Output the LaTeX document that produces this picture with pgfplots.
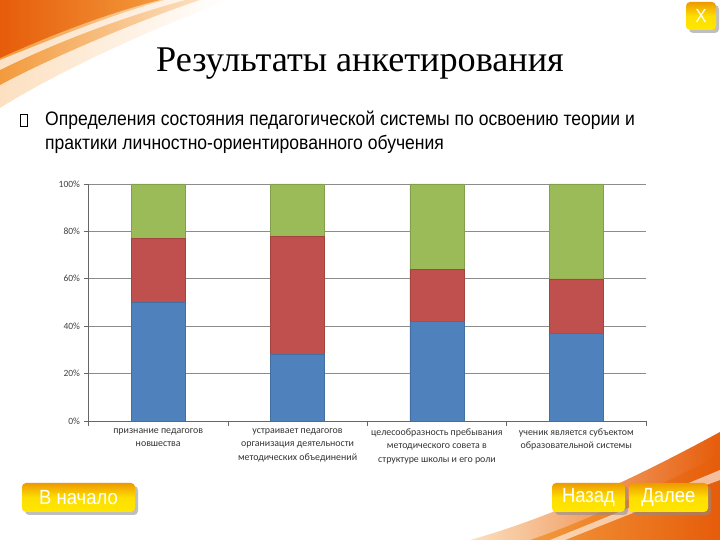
\documentclass[border=0pt]{standalone}
\usepackage{fontspec}
\setmainfont{Liberation Serif}
\newfontfamily\arialf{Liberation Sans}
\newfontfamily\narrowf[FakeStretch=0.9]{Liberation Sans}
\newfontfamily\calib{Carlito}
\usepackage{pgfplots}
\pgfplotsset{compat=1.18}
\definecolor{sblue}{HTML}{4F81BD}
\definecolor{sred}{HTML}{C0504D}
\definecolor{sgreen}{HTML}{9BBB59}
\definecolor{odark}{HTML}{E65C0A}
\definecolor{omid}{HTML}{F39A3C}
\definecolor{olight}{HTML}{FCE0C0}
\definecolor{btop}{HTML}{EE9A00}
\definecolor{bbot}{HTML}{FFE600}
\newcommand{\btn}[6]{%
  \fill[black!45,opacity=0.55,rounded corners=4pt] (#1+3,540-#4-3) rectangle (#3+3,540-#2-3);
  \shade[top color=btop,bottom color=bbot,middle color=bbot!90!btop,rounded corners=4pt] (#1,540-#4) rectangle (#3,540-#2);
  \node[text=white,font=\narrowf\fontsize{#6}{20}\selectfont] at ({(#1+#3)/2},{540-(#2+#4)/2}) {#5};}
\begin{document}
\begin{tikzpicture}[x=1pt,y=1pt]
\path[fill=white] (0,0) rectangle (720,540);
% top-left swoosh
\shade[left color=olight,right color=white] (0,540) -- (230,540) .. controls (160,515) and (60,470) .. (0,432) -- cycle;
\shade[left color=omid,right color=olight] (0,540) -- (200,540) .. controls (140,520) and (50,482) .. (0,455) -- cycle;
\fill[white,opacity=0.7] (0,470) .. controls (60,500) and (130,525) .. (185,540) -- (165,540) .. controls (110,525) and (50,500) .. (0,480) -- cycle;
\shade[left color=odark,right color=omid] (0,540) -- (160,540) .. controls (100,525) and (40,500) .. (0,482) -- cycle;
% bottom-right swoosh
\shade[right color=odark,left color=olight] (720,108) .. controls (650,70) and (560,25) .. (470,0) -- (720,0) -- cycle;
\shade[right color=odark,left color=omid] (720,85) .. controls (660,55) and (590,20) .. (530,0) -- (720,0) -- cycle;
\fill[white,opacity=0.6] (720,70) .. controls (660,45) and (600,20) .. (550,0) -- (565,0) .. controls (610,18) and (665,40) .. (720,60) -- cycle;
% title
\node[font=\fontsize{36.2}{42}\selectfont] at (360,476) {Результаты анкетирования};
% bullet
\draw[line width=0.5pt] (20.5,414) rectangle (27,426);
\node[anchor=base west,align=left,font=\narrowf\fontsize{19.5}{24}\selectfont,inner sep=0pt] at (45,390) {Определения состояния педагогической системы по освоению теории и\\практики личностно-ориентированного обучения};
% buttons
\btn{22}{483}{135}{512}{В начало}{20.5}
\btn{552}{483}{625}{512}{Назад}{20.5}
\btn{629}{483}{708}{512}{Далее}{20.5}
\btn{686}{2}{716}{30}{X}{19}
\begin{axis}[
  at={(88.5pt,119pt)}, anchor=south west,
  scale only axis, width=557.5pt, height=237pt,
  ybar stacked, bar width=54pt,
  xmin=-0.5, xmax=3.5, ymin=0, ymax=100,
  axis x line*=bottom, axis y line*=left,
  axis line style={-, draw=black!60},
  ytick={0,20,40,60,80,100},
  yticklabels={0\%,20\%,40\%,60\%,80\%,100\%},
  xtick={-0.5,0.5,1.5,2.5,3.5}, xticklabels={},
  extra x ticks={0,1,2,3},
  extra x tick labels={{признание педагогов\\новшества},{устраивает педагогов\\организация деятельности\\методических объединений},{целесообразность пребывания\\методического совета в\\структуре школы и его роли},{ученик является субъектом\\образовательной системы}},
  extra x tick style={major tick length=0pt, tick label style={align=center, yshift=-4pt, font=\calib\fontsize{9.9}{13.5}\selectfont, text=black!80}},
  tick align=outside, major tick length=5pt,
  tick style={draw=black!60, line width=0.6pt},
  yticklabel style={font=\calib\fontsize{9.5}{11}\selectfont, text=black!75},
  ymajorgrids, major grid style={draw=black!45, line width=0.6pt},
  /pgf/number format/assume math mode=true,
]
\addplot[fill=sblue, draw=sblue!85!black, line width=0.3pt] coordinates {(0,50) (1,28) (2,42) (3,37)};
\addplot[fill=sred, draw=sred!85!black, line width=0.3pt] coordinates {(0,27) (1,50) (2,22) (3,23)};
\addplot[fill=sgreen, draw=sgreen!85!black, line width=0.3pt] coordinates {(0,23) (1,22) (2,36) (3,40)};
\end{axis}
\end{tikzpicture}
\end{document}
